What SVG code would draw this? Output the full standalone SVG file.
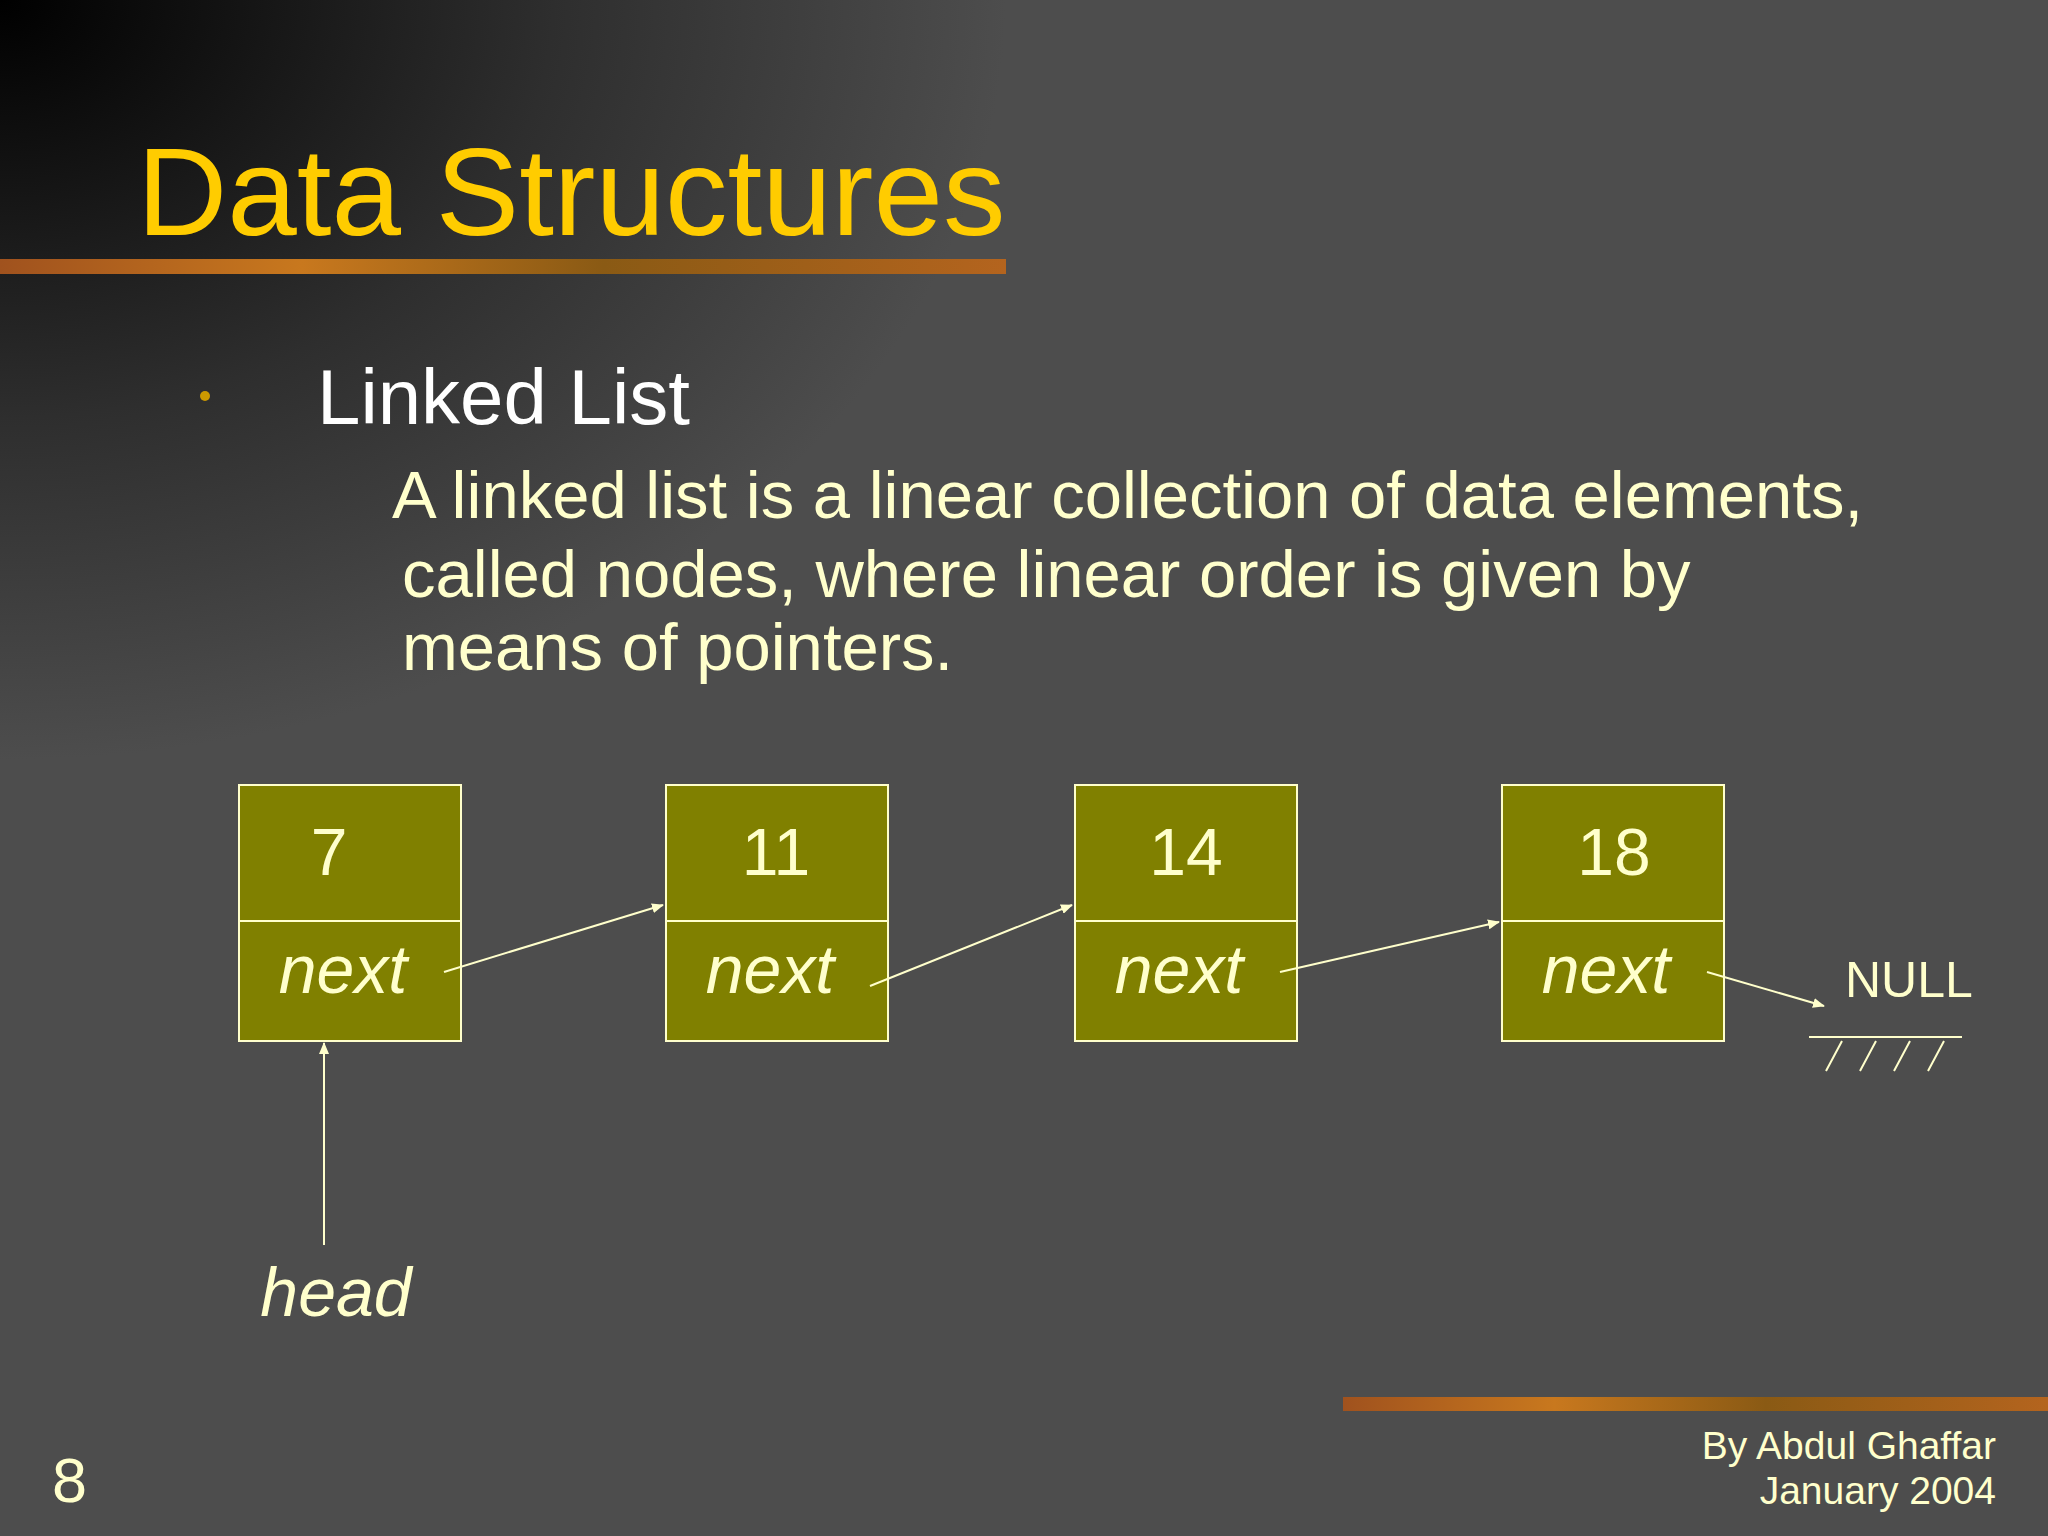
<svg xmlns="http://www.w3.org/2000/svg" width="2048" height="1536" viewBox="0 0 2048 1536">
<defs>
<radialGradient id="bg" cx="0" cy="0" r="1" gradientUnits="objectBoundingBox">
<stop offset="0" stop-color="#000"/><stop offset="0.55" stop-color="#2e2e2e"/><stop offset="1" stop-color="#4d4d4d"/>
</radialGradient>
<linearGradient id="stripe" x1="0" y1="0" x2="1" y2="0">
<stop offset="0" stop-color="#a0521e"/><stop offset="0.3" stop-color="#c8781e"/><stop offset="0.6" stop-color="#8a5a14"/><stop offset="1" stop-color="#b4641e"/>
</linearGradient>
<marker id="ah" markerWidth="12" markerHeight="10" refX="11" refY="5" orient="auto" markerUnits="userSpaceOnUse">
<path d="M0,0 L12,5 L0,10 z" fill="#FFFFCC"/>
</marker>
<style>
.box{fill:#808000;stroke:#FFFFCC;stroke-width:2}
.num{font-family:"Liberation Sans",Arial,sans-serif;font-size:66px;fill:#FFFFCC;text-anchor:middle}
.nx{font-family:"Liberation Sans",Arial,sans-serif;font-size:68px;font-style:italic;fill:#FFFFCC;text-anchor:middle}
.ln{stroke:#FFFFCC;stroke-width:2;fill:none}
.arr{stroke:#FFFFCC;stroke-width:2;fill:none;marker-end:url(#ah)}
.t{font-family:"Liberation Sans",Arial,sans-serif;fill:#FFFFCC}
</style>
</defs>
<rect width="2048" height="1536" fill="#4d4d4d"/>
<rect width="1006" height="760" fill="url(#bg)"/>
<rect x="0" y="259" width="1006" height="15" fill="url(#stripe)"/>
<rect x="1343" y="1397" width="705" height="14" fill="url(#stripe)"/>
<text x="137" y="235" font-family="Liberation Sans,Arial,sans-serif" font-size="125" fill="#FFCC00">Data Structures</text>
<circle cx="205" cy="396" r="5" fill="#CC9900"/>
<text class="t" x="317" y="424" font-size="78" style="fill:#fff">Linked List</text>
<text class="t" x="392" y="518" font-size="67">A linked list is a linear collection of data elements,</text>
<text class="t" x="402" y="597" font-size="67">called nodes, where linear order is given by</text>
<text class="t" x="402" y="670" font-size="67">means of pointers.</text>
<g id="n1"><rect class="box" x="239" y="785" width="222" height="256"/><line class="ln" x1="239" y1="921" x2="461" y2="921"/><text class="num" x="329" y="875">7</text><text class="nx" x="343" y="993">next</text></g>
<g id="n2"><rect class="box" x="666" y="785" width="222" height="256"/><line class="ln" x1="666" y1="921" x2="888" y2="921"/><text class="num" x="776" y="875">11</text><text class="nx" x="770" y="993">next</text></g>
<g id="n3"><rect class="box" x="1075" y="785" width="222" height="256"/><line class="ln" x1="1075" y1="921" x2="1297" y2="921"/><text class="num" x="1186" y="875">14</text><text class="nx" x="1179" y="993">next</text></g>
<g id="n4"><rect class="box" x="1502" y="785" width="222" height="256"/><line class="ln" x1="1502" y1="921" x2="1724" y2="921"/><text class="num" x="1614" y="875">18</text><text class="nx" x="1606" y="993">next</text></g>
<g id="null"><text class="t" x="1845" y="997" font-size="50">NULL</text>
<line class="ln" x1="1809" y1="1037" x2="1962" y2="1037"/>
<path class="ln" d="M1842,1041 L1826,1071 M1876,1041 L1860,1071 M1910,1041 L1894,1071 M1944,1041 L1928,1071"/></g>
<g id="headlbl"><text class="nx" x="336" y="1316">head</text></g>
<g id="connectors">
<line class="arr" x1="444" y1="972" x2="663" y2="905"/>
<line class="arr" x1="870" y1="986" x2="1072" y2="905"/>
<line class="arr" x1="1280" y1="972" x2="1499" y2="922"/>
<line class="arr" x1="1707" y1="972" x2="1824" y2="1006"/>
<line class="arr" x1="324" y1="1245" x2="324" y2="1043"/>
</g>
<text class="t" x="52" y="1502" font-size="63">8</text>
<text class="t" x="1996" y="1459" font-size="39" text-anchor="end">By Abdul Ghaffar</text>
<text class="t" x="1996" y="1504" font-size="39" text-anchor="end">January 2004</text>
</svg>
